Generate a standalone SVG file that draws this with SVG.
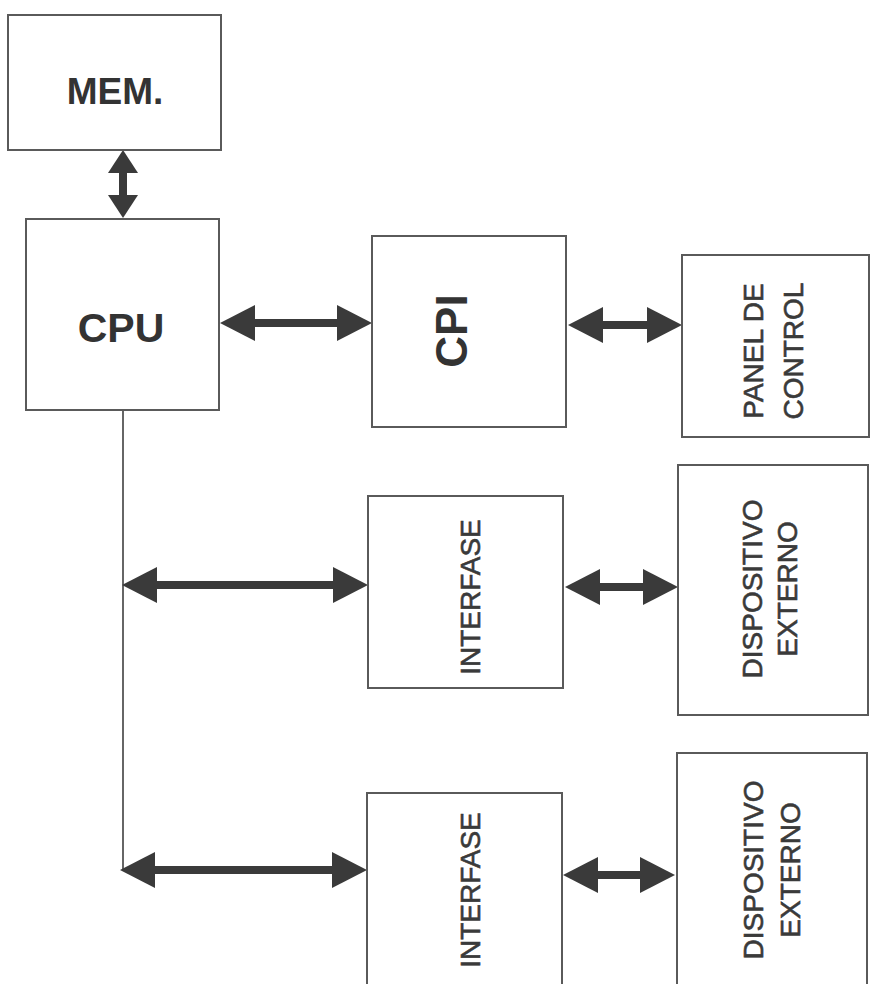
<svg xmlns="http://www.w3.org/2000/svg" width="870" height="984" viewBox="0 0 870 984">
  <style>
    .box { fill: #ffffff; stroke: #5a5a5a; stroke-width: 2; }
    .big { font-family: "Liberation Sans", Arial, sans-serif; font-weight: bold; fill: #333333; text-anchor: middle; }
    .lbl { font-family: "Liberation Sans", Arial, sans-serif; font-size: 28px; fill: #3a3a3a; stroke: #3a3a3a; stroke-width: 0.6; text-anchor: middle; }
    .shaft { stroke: #3a3a3a; stroke-width: 8; fill: none; }
    .bus { stroke: #666666; stroke-width: 2; fill: none; }
  </style>
  <defs>
    <marker id="head" markerUnits="userSpaceOnUse" markerWidth="36" markerHeight="38" refX="0" refY="18" orient="auto-start-reverse">
      <path d="M0,0 L35,18 L0,36 z" fill="#3a3a3a"/>
    </marker>
    <marker id="headS" markerUnits="userSpaceOnUse" markerWidth="24" markerHeight="32" refX="0" refY="15" orient="auto-start-reverse">
      <path d="M0,0 L23,15 L0,30 z" fill="#3a3a3a"/>
    </marker>
  </defs>
  <rect width="870" height="984" fill="#ffffff"/>

  <g id="connectors">
    <line class="bus" x1="123" y1="410" x2="123" y2="870"/>
    <line class="shaft" x1="123" y1="173" x2="123" y2="195" marker-start="url(#headS)" marker-end="url(#headS)"/>
    <line class="shaft" x1="255" y1="323" x2="337" y2="323" marker-start="url(#head)" marker-end="url(#head)"/>
    <line class="shaft" x1="603" y1="325" x2="647" y2="325" marker-start="url(#head)" marker-end="url(#head)"/>
    <line class="shaft" x1="157" y1="585" x2="333" y2="585" marker-start="url(#head)" marker-end="url(#head)"/>
    <line class="shaft" x1="600" y1="587" x2="643" y2="587" marker-start="url(#head)" marker-end="url(#head)"/>
    <line class="shaft" x1="155" y1="870" x2="332" y2="870" marker-start="url(#head)" marker-end="url(#head)"/>
    <line class="shaft" x1="598" y1="875" x2="640" y2="875" marker-start="url(#head)" marker-end="url(#head)"/>
  </g>

  <g id="mem">
    <rect class="box" x="8" y="15" width="213" height="135"/>
    <text class="big" x="115" y="104" font-size="37">MEM.</text>
  </g>
  <g id="cpu">
    <rect class="box" x="26" y="219" width="193" height="191"/>
    <text class="big" x="121" y="342" font-size="41">CPU</text>
  </g>
  <g id="cpi">
    <rect class="box" x="372" y="236" width="194" height="191"/>
    <text class="big" font-size="44" transform="translate(467,331) rotate(-90)">CPI</text>
  </g>
  <g id="panel">
    <rect class="box" x="682" y="255" width="187" height="182"/>
    <text class="lbl" font-size="29" transform="translate(763,351) rotate(-90)">PANEL DE</text>
    <text class="lbl" font-size="29" transform="translate(803,351) rotate(-90)">CONTROL</text>
  </g>
  <g id="interfase1">
    <rect class="box" x="368" y="496" width="195" height="192"/>
    <text class="lbl" transform="translate(480,597) rotate(-90)">INTERFASE</text>
  </g>
  <g id="dispositivo1">
    <rect class="box" x="678" y="465" width="190" height="250"/>
    <text class="lbl" transform="translate(762,589) rotate(-90)">DISPOSITIVO</text>
    <text class="lbl" transform="translate(797,589) rotate(-90)">EXTERNO</text>
  </g>
  <g id="interfase2">
    <rect class="box" x="367" y="793" width="195" height="200"/>
    <text class="lbl" transform="translate(480,890) rotate(-90)">INTERFASE</text>
  </g>
  <g id="dispositivo2">
    <rect class="box" x="677" y="753" width="190" height="240"/>
    <text class="lbl" transform="translate(763,870) rotate(-90)">DISPOSITIVO</text>
    <text class="lbl" transform="translate(800,870) rotate(-90)">EXTERNO</text>
  </g>
</svg>
